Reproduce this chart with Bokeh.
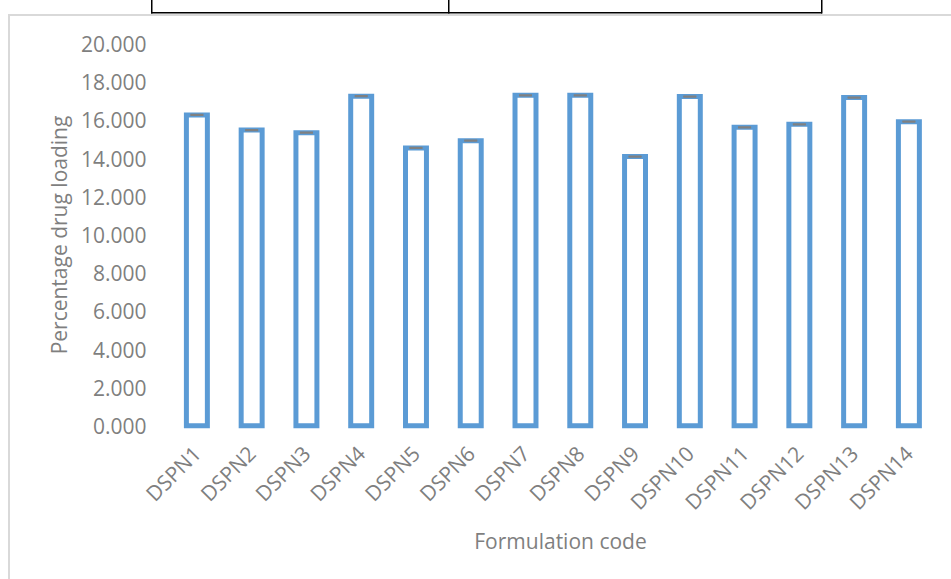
from math import pi

from bokeh.embed import file_html
from bokeh.models import (ColumnDataSource, FixedTicker, NumeralTickFormatter,
                          Range1d, TeeHead, Whisker)
from bokeh.plotting import figure
from bokeh.resources import INLINE

# Drug loading (%) per formulation
formulations = ["DSPN1", "DSPN2", "DSPN3", "DSPN4", "DSPN5", "DSPN6", "DSPN7",
                "DSPN8", "DSPN9", "DSPN10", "DSPN11", "DSPN12", "DSPN13", "DSPN14"]
drug_loading = [16.29, 15.50, 15.36, 17.27, 14.56, 14.94, 17.32,
                17.32, 14.11, 17.25, 15.64, 15.80, 17.20, 15.94]
loading_sd = [0.02, 0.02, 0.02, 0.02, 0.02, 0.02, 0.02,
              0.02, 0.02, 0.02, 0.02, 0.02, 0.02, 0.02]
y_ticks = [0, 2, 4, 6, 8, 10, 12, 14, 16, 18, 20]

FONT = "Open Sans"
TEXT_GRAY = "#7f7f7f"
BAR_BLUE = "#5b9bd5"

positions = list(range(1, len(formulations) + 1))
source = ColumnDataSource(dict(
    x=positions,
    top=drug_loading,
    upper=[v + e for v, e in zip(drug_loading, loading_sd)],
    lower=[v - e for v, e in zip(drug_loading, loading_sd)],
))

p = figure(width=951, height=579, output_backend="svg", toolbar_location=None,
           x_range=Range1d(0.5, 14.778), y_range=Range1d(-0.4, 20.4),
           min_border_left=169, min_border_right=0,
           min_border_top=36, min_border_bottom=146)
p.outline_line_color = None
# transparent canvas so the page frame lines drawn by CSS show through
p.background_fill_color = None
p.border_fill_color = None
p.xgrid.visible = False
p.ygrid.visible = False

# light gray chart-area border (top, left) and the black table rule above it
rules = [
    ("#d9d9d9", "943px 2px", "8px 14px"),
    ("#d9d9d9", "2px 565px", "8px 14px"),
    ("#000000", "671px 1.5px", "151px 12px"),
    ("#000000", "1.5px 13.5px", "151px 0px"),
    ("#000000", "1.5px 13.5px", "448px 0px"),
    ("#000000", "1.5px 13.5px", "821px 0px"),
]
p.styles = {
    "background-color": "white",
    "background-image": ", ".join(f"linear-gradient({c}, {c})" for c, _, _ in rules),
    "background-size": ", ".join(s for _, s, _ in rules),
    "background-position": ", ".join(pos for _, _, pos in rules),
    "background-repeat": "no-repeat",
}

# hollow columns
p.vbar(x="x", top="top", bottom=0, width=0.383, source=source,
       fill_color=None, line_color=BAR_BLUE, line_width=5, line_join="miter")

# small error caps
cap = dict(size=13, line_color="#808080", line_width=1.5)
p.add_layout(Whisker(base="x", upper="upper", lower="lower", source=source,
                     line_color="#808080", line_width=1.5, level="overlay",
                     upper_head=TeeHead(**cap), lower_head=TeeHead(**cap)))

# x axis
xa = p.xaxis[0]
xa.ticker = FixedTicker(ticks=positions)
xa.major_label_overrides = {i: name for i, name in zip(positions, formulations)}
xa.major_label_orientation = pi / 4
xa.axis_line_color = None
xa.major_tick_line_color = None
xa.minor_tick_line_color = None
xa.major_label_standoff = 10
xa.axis_label = "Formulation code"
xa.axis_label_standoff = -1

# y axis
ya = p.yaxis[0]
ya.ticker = FixedTicker(ticks=y_ticks)
ya.formatter = NumeralTickFormatter(format="0.000")
ya.axis_line_color = None
ya.major_tick_line_color = None
ya.minor_tick_line_color = None
ya.major_label_standoff = 17
ya.axis_label = "Percentage drug loading"
ya.axis_label_standoff = 5

for ax in (xa, ya):
    ax.major_label_text_font = FONT
    ax.major_label_text_font_size = "21px"
    ax.major_label_text_color = TEXT_GRAY
    ax.axis_label_text_font = FONT
    ax.axis_label_text_font_size = "21px"
    ax.axis_label_text_font_style = "normal"
    ax.axis_label_text_color = TEXT_GRAY

open("out.html", "w").write(file_html(p, INLINE))
